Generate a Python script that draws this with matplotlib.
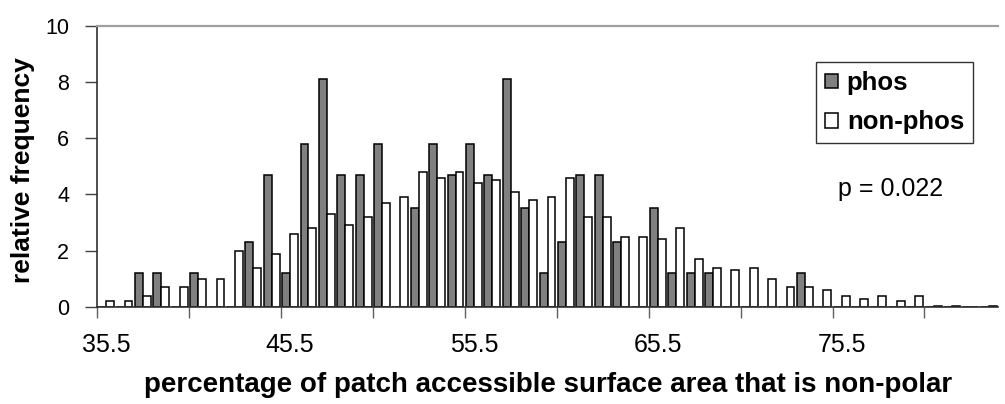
import matplotlib
matplotlib.use("Agg")
import matplotlib.pyplot as plt
from matplotlib.patches import Patch
import numpy as np

plt.rcParams['font.family'] = ['Liberation Sans', 'DejaVu Sans']

categories = [35.5, 36.5, 37.5, 38.5, 39.5, 40.5, 41.5, 42.5, 43.5, 44.5,
              45.5, 46.5, 47.5, 48.5, 49.5, 50.5, 51.5, 52.5, 53.5, 54.5,
              55.5, 56.5, 57.5, 58.5, 59.5, 60.5, 61.5, 62.5, 63.5, 64.5,
              65.5, 66.5, 67.5, 68.5, 69.5, 70.5, 71.5, 72.5, 73.5, 74.5,
              75.5, 76.5, 77.5, 78.5, 79.5, 80.5, 81.5, 82.5, 83.5]

phos = [0, 0, 1.2, 1.2, 0, 1.2, 0, 0, 2.3, 4.7,
        1.2, 5.8, 8.1, 4.7, 4.7, 5.8, 0, 3.5, 5.8, 4.7,
        5.8, 4.7, 8.1, 3.5, 1.2, 2.3, 4.7, 4.7, 2.3, 0,
        3.5, 1.2, 1.2, 1.2, 0, 0, 0, 0, 1.2, 0,
        0, 0, 0, 0, 0, 0, 0, 0, 0]

non_phos = [0.2, 0.2, 0.4, 0.7, 0.7, 1.0, 1.0, 2.0, 1.4, 1.9,
            2.6, 2.8, 3.3, 2.9, 3.2, 3.7, 3.9, 4.8, 4.6, 4.8,
            4.4, 4.5, 4.1, 3.8, 3.9, 4.6, 3.2, 3.2, 2.5, 2.5,
            2.4, 2.8, 1.7, 1.4, 1.3, 1.4, 1.0, 0.7, 0.7, 0.6,
            0.4, 0.3, 0.4, 0.2, 0.4, 0.05, 0.05, 0, 0.05]

y_ticks = [0, 2, 4, 6, 8, 10]
label_every = 10
series_names = ["phos", "non-phos"]
p_text = "p = 0.022"

fig = plt.figure(figsize=(10.05, 4.04), dpi=100)
ax = fig.add_axes([97 / 1005, 1 - 307 / 404, 901 / 1005, (307 - 25.5) / 404])

x = np.arange(len(categories))
w = 0.43
ax.bar(x - w / 2, phos, width=w, color="#808080", edgecolor="black", linewidth=1.1, label=series_names[0])
ax.bar(x + w / 2, non_phos, width=w, color="white", edgecolor="black", linewidth=1.1, label=series_names[1])

ax.set_xlim(-0.5, len(categories) - 0.5)
ax.set_ylim(0, 10)

# y axis
ax.set_yticks(y_ticks)
ax.set_yticklabels([str(t) for t in y_ticks])
ax.tick_params(axis="y", direction="out", length=9, width=1, pad=11, labelsize=15.5, color="#404040")

# x axis: labels at category centres, tick marks at boundaries
lab_idx = list(range(0, len(categories), label_every))
ax.set_xticks(lab_idx)
ax.set_xticklabels([str(categories[i]) for i in lab_idx])
ax.tick_params(axis="x", which="major", length=0, pad=19, labelsize=18)
ax.set_xticks(np.arange(-0.5, len(categories) - 1, 5), minor=True)
ax.tick_params(axis="x", which="minor", direction="out", length=8, width=1, color="#606060")

ax.spines["right"].set_visible(False)
ax.spines["top"].set_color("#a0a0a0")
ax.spines["top"].set_linewidth(1.6)
ax.spines["left"].set_color("#303030")
ax.spines["bottom"].set_color("#303030")
ax.spines["left"].set_linewidth(1.2)
ax.spines["bottom"].set_linewidth(1.2)

fig.text(23 / 1005, 1 - 170 / 404, "relative frequency", rotation=90, ha="center", va="center",
         fontsize=19, fontweight="bold")
fig.text(548 / 1005, 1 - 385 / 404, "percentage of patch accessible surface area that is non-polar",
         ha="center", va="center", fontsize=20, fontweight="bold")

ax.text(891 / 1005, 1 - 189 / 404, p_text, transform=fig.transFigure, ha="center", va="center", fontsize=18)

handles = [Patch(facecolor="#808080", edgecolor="black", linewidth=1.1),
           Patch(facecolor="white", edgecolor="black", linewidth=1.1)]
leg = fig.legend(handles, series_names, loc="upper left",
                 bbox_to_anchor=(816 / 1005, 1 - 62 / 404), bbox_transform=fig.transFigure,
                 prop={"weight": "bold", "size": 18.5}, frameon=True, fancybox=False,
                 edgecolor="black", handlelength=0.5, handleheight=0.5, handletextpad=0.35,
                 borderpad=0.35, labelspacing=0.6, borderaxespad=0)
leg.get_frame().set_linewidth(1.0)

fig.savefig("out.png", dpi=100)
